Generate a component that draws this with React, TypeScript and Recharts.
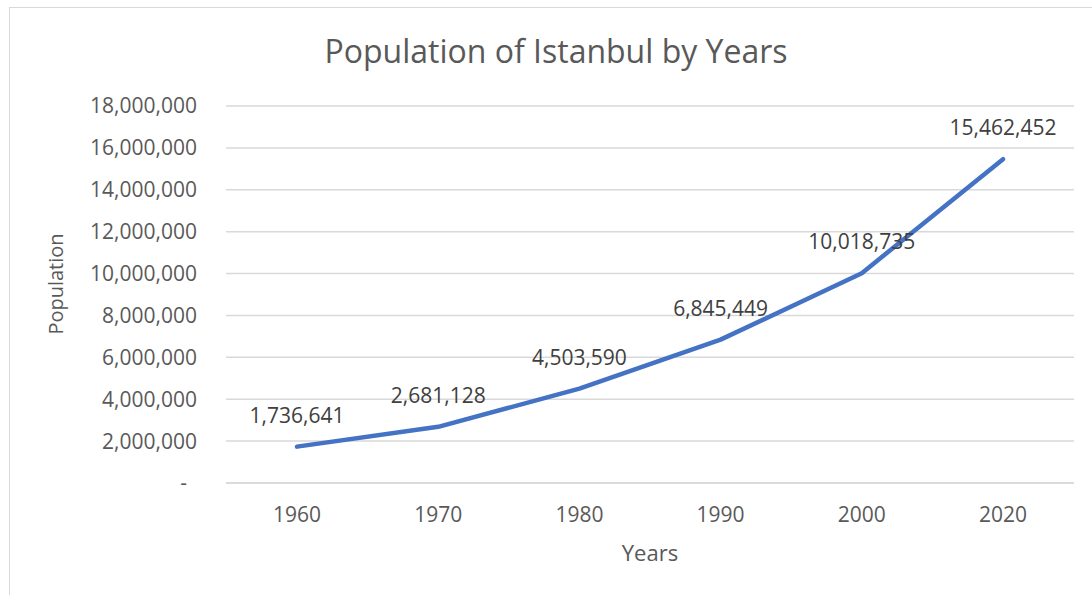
import React from "react";
import { CartesianGrid, LabelList, Line, LineChart, XAxis, YAxis } from "recharts";

const YEARS = ["1960", "1970", "1980", "1990", "2000", "2020"];
const POPULATION = [1736641, 2681128, 4503590, 6845449, 10018735, 15462452];
const Y_TICKS = [0, 2000000, 4000000, 6000000, 8000000, 10000000, 12000000, 14000000, 16000000, 18000000];

const FONT = "'Open Sans', 'Noto Sans', sans-serif";
const TEXT = "#595959";
const GRID = "#d9d9d9";

const data = YEARS.map((year, i) => ({ year, population: POPULATION[i] }));

const fmt = (v: number) => v.toLocaleString("en-US");

// Excel accounting style: zero shows as a dash, nudged in from the right edge
function YTick(props: any) {
  const { x, y, payload } = props;
  const isZero = payload.value === 0;
  return (
    <text
      x={isZero ? x - 10 : x}
      y={y}
      dy="0.355em"
      textAnchor="end"
      fill={TEXT}
      fontFamily={FONT}
      fontSize={21}
    >
      {isZero ? "-" : fmt(payload.value)}
    </text>
  );
}

function PopulationLabel() {
  return (
    <text
      x={63}
      y={284}
      transform="rotate(-90, 63, 284)"
      textAnchor="middle"
      fill={TEXT}
      fontFamily={FONT}
      fontSize={20}
    >
      Population
    </text>
  );
}

export default function App() {
  return (
    <div
      style={{
        position: "absolute",
        left: 0,
        top: 0,
        width: 1092,
        height: 595,
        overflow: "hidden",
        background: "#ffffff",
      }}
    >
      <div
        style={{
          position: "absolute",
          left: 9,
          top: 7,
          width: 1120,
          height: 620,
          border: `1px solid ${GRID}`,
        }}
      />
      <div
        style={{
          position: "absolute",
          left: 0,
          top: 35,
          width: 1112,
          textAlign: "center",
          fontFamily: FONT,
          fontSize: 32,
          lineHeight: "32px",
          color: TEXT,
        }}
      >
        Population of Istanbul by Years
      </div>
      <div style={{ position: "absolute", left: 0, top: 0 }}>
        <LineChart width={1092} height={595} data={data} margin={{ top: 106, right: 18, left: 0, bottom: 0 }}>
          <CartesianGrid vertical={false} stroke={GRID} strokeWidth={1.5} />
          <XAxis
            dataKey="year"
            height={112}
            padding={{ left: 71, right: 71 }}
            axisLine={{ stroke: GRID, strokeWidth: 1.5 }}
            tickLine={false}
            tickSize={6}
            tickMargin={18}
            tick={{ fill: TEXT, fontFamily: FONT, fontSize: 21 }}
            label={{
              value: "Years",
              position: "insideBottom",
              offset: 34,
              fill: TEXT,
              fontFamily: FONT,
              fontSize: 22,
            }}
          />
          <YAxis
            width={226}
            domain={[0, 18000000]}
            ticks={Y_TICKS}
            axisLine={false}
            tickLine={false}
            tickSize={6}
            tickMargin={23}
            tick={<YTick />}
            label={{ content: () => <PopulationLabel /> }}
          />
          <Line
            type="linear"
            dataKey="population"
            stroke="#4472C4"
            strokeWidth={4.5}
            strokeLinecap="round"
            strokeLinejoin="round"
            dot={false}
            activeDot={false}
            isAnimationActive={false}
          >
            <LabelList
              dataKey="population"
              position="top"
              offset={24}
              formatter={(v: any) => fmt(Number(v))}
              fill="#404040"
              fontFamily={FONT}
              fontSize={21}
            />
          </Line>
        </LineChart>
      </div>
    </div>
  );
}
